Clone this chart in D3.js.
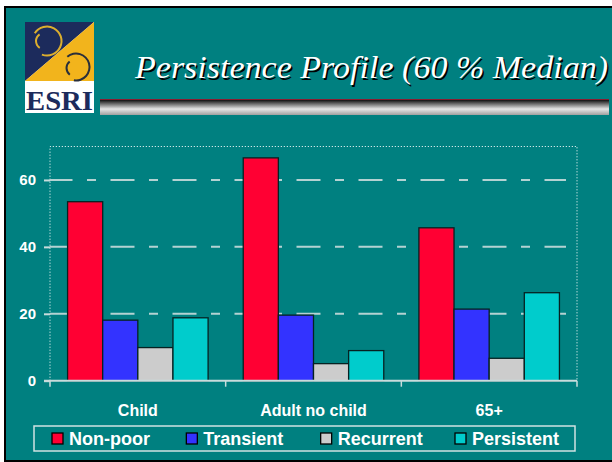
<!DOCTYPE html>
<html>
<head>
<meta charset="utf-8">
<script src="https://cdn.jsdelivr.net/npm/d3@7/dist/d3.min.js"></script>
<style>
  html, body { margin: 0; padding: 0; background: #fff; }
  svg { display: block; }
</style>
</head>
<body>
<svg id="chart" width="612" height="462"></svg>
<script>
// data
const categories = ['Child', 'Adult no child', '65+'];
const series = ['Non-poor', 'Transient', 'Recurrent', 'Persistent'];
const nonPoor = [53.5, 66.6, 45.7];
const transient = [18.1, 19.6, 21.4];
const recurrent = [9.9, 5.1, 6.7];
const persistent = [18.8, 9.0, 26.3];
const yTicks = [0, 20, 40, 60];

const values = [nonPoor, transient, recurrent, persistent];
const colors = ['#ff0033', '#3333ff', '#cccccc', '#00cccc'];

const W = 612, H = 462;
const teal = '#008080';
const svg = d3.select('#chart');

// slide background + frame
svg.append('rect').attr('x', 5).attr('y', 7).attr('width', W + 10).attr('height', 454)
  .attr('fill', teal).attr('stroke', '#000').attr('stroke-width', 2);

// logo
const logo = svg.append('g');
logo.append('rect').attr('x', 25).attr('y', 22).attr('width', 69).attr('height', 91).attr('fill', '#fff');
logo.append('path').attr('d', 'M25,22 L94,22 L25,81 Z').attr('fill', '#1c2b5c');
logo.append('path').attr('d', 'M94,22 L94,81 L25,81 Z').attr('fill', '#f2b41c');
const arc = d3.arc();
const rings = [
  { cx: 47, cy: 41, r0: 13.5, r1: 15.5, a0: -1.0, a1: 3.5, c: '#dcae2e' },
  { cx: 44, cy: 41, r0: 7, r1: 9, a0: 3.7, a1: 5.7, c: '#dcae2e' },
  { cx: 76, cy: 67, r0: 12.5, r1: 14.5, a0: -0.7, a1: 3.3, c: '#2a2f3a' },
  { cx: 75, cy: 68, r0: 7.5, r1: 9.5, a0: 3.8, a1: 5.6, c: '#2a2f3a' }
];
rings.forEach((g) => {
  logo.append('path')
    .attr('transform', `translate(${g.cx},${g.cy})`)
    .attr('d', arc({ innerRadius: g.r0, outerRadius: g.r1, startAngle: g.a0, endAngle: g.a1 }))
    .attr('fill', g.c);
});
logo.append('text').attr('x', 26).attr('y', 110).attr('textLength', 67).attr('lengthAdjust', 'spacingAndGlyphs')
  .attr('font-family', 'Liberation Serif').attr('font-weight', 'bold').attr('font-size', 28)
  .attr('fill', '#1c2b5c').text('ESRI');

// title bar
const defs = svg.append('defs');
const grad = defs.append('linearGradient').attr('id', 'bar').attr('x1', 0).attr('y1', 0).attr('x2', 0).attr('y2', 1);
grad.append('stop').attr('offset', '0%').attr('stop-color', '#111');
grad.append('stop').attr('offset', '60%').attr('stop-color', '#e6e6e6');
grad.append('stop').attr('offset', '100%').attr('stop-color', '#a0a0a0');
svg.append('rect').attr('x', 100).attr('y', 100).attr('width', 509).attr('height', 15).attr('fill', 'url(#bar)');
svg.append('line').attr('x1', 100).attr('x2', 609).attr('y1', 99.5).attr('y2', 99.5)
  .attr('stroke', '#8a1c30').attr('stroke-width', 1);

const title = 'Persistence Profile (60 % Median)';
[['#000', 1.5], ['#fff', 0]].forEach(([c, o]) => {
  svg.append('text').attr('x', 135 + o).attr('y', 78 + o)
    .attr('textLength', 473).attr('lengthAdjust', 'spacingAndGlyphs')
    .attr('font-family', 'Liberation Serif').attr('font-style', 'italic').attr('font-size', 32)
    .attr('fill', c).text(title);
});

// chart
const plot = { left: 50, right: 577, top: 146.5, bottom: 380.7 };
const x0 = d3.scaleBand().domain(categories).range([plot.left, plot.right]).padding(0);
const bw = x0.bandwidth();
const x1 = d3.scaleBand().domain(series).range([bw * 0.1, bw * 0.9]).padding(0);
const y = d3.scaleLinear().domain([0, 70]).range([plot.bottom, plot.top]);

// dotted frame
svg.append('path')
  .attr('d', `M${plot.left},${plot.bottom} V${plot.top} H${plot.right} V${plot.bottom}`)
  .attr('fill', 'none').attr('stroke', '#fff').attr('stroke-width', 1).attr('stroke-dasharray', '1,2');

// gridlines
svg.append('g').selectAll('line').data(yTicks.filter((d) => d > 0)).join('line')
  .attr('x1', plot.left).attr('x2', 566)
  .attr('y1', (d) => y(d)).attr('y2', (d) => y(d))
  .attr('stroke', '#b4d2d2').attr('stroke-width', 2)
  .attr('stroke-dasharray', '24,14.5,9,14.5').attr('stroke-dashoffset', 1.5);

// y axis ticks + labels
const yAxis = svg.append('g').attr('transform', `translate(${plot.left},0)`)
  .call(d3.axisLeft(y).tickValues(yTicks).tickSize(6).tickPadding(8).tickFormat(d3.format('d')));
yAxis.select('.domain').remove();
yAxis.selectAll('.tick line').attr('stroke', '#c8dcdc').attr('stroke-width', 2);
yAxis.selectAll('.tick text').attr('fill', '#fff').attr('font-family', 'Liberation Sans')
  .attr('font-weight', 'bold').attr('font-size', 15);

// bars
const groups = svg.append('g').selectAll('g').data(categories).join('g')
  .attr('transform', (d) => `translate(${x0(d)},0)`);
groups.selectAll('rect')
  .data((d, i) => series.map((s, j) => ({ s, j, v: values[j][i] })))
  .join('rect')
  .attr('x', (d) => x1(d.s))
  .attr('y', (d) => y(d.v))
  .attr('width', x1.bandwidth())
  .attr('height', (d) => y(0) - y(d.v))
  .attr('fill', (d) => colors[d.j])
  .attr('stroke', '#062222').attr('stroke-width', 1.3);

// x axis
const xAxis = svg.append('g').attr('transform', `translate(0,${plot.bottom})`)
  .call(d3.axisBottom(x0).tickSize(0).tickPadding(24));
xAxis.select('.domain').attr('d', `M44,0 H${plot.right}`).attr('stroke', '#c8dcdc').attr('stroke-width', 2);
xAxis.selectAll('.tick text').attr('fill', '#fff').attr('font-family', 'Liberation Sans')
  .attr('font-weight', 'bold').attr('font-size', 16).attr('dy', '0.71em');
const bounds = categories.map((c) => x0(c)).concat([plot.right]);
xAxis.append('g').selectAll('line').data(bounds).join('line')
  .attr('x1', (d) => d).attr('x2', (d) => d).attr('y1', 0).attr('y2', 6)
  .attr('stroke', '#c8dcdc').attr('stroke-width', 1.5);

// legend
svg.append('rect').attr('x', 34).attr('y', 426).attr('width', 541).attr('height', 25)
  .attr('fill', 'none').attr('stroke', '#d0e2e2').attr('stroke-width', 1.5);
const lx = d3.scalePoint().domain(series).range([52, 455]);
const items = svg.append('g').selectAll('g').data(series).join('g')
  .attr('transform', (d) => `translate(${lx(d)},433)`);
items.append('rect').attr('width', 11).attr('height', 11)
  .attr('fill', (d, i) => colors[i]).attr('stroke', '#000').attr('stroke-width', 1.3);
items.append('text').attr('x', 17).attr('y', 11.5)
  .attr('fill', '#fff').attr('font-family', 'Liberation Sans').attr('font-weight', 'bold')
  .attr('font-size', 18).text((d) => d);
</script>
</body>
</html>
